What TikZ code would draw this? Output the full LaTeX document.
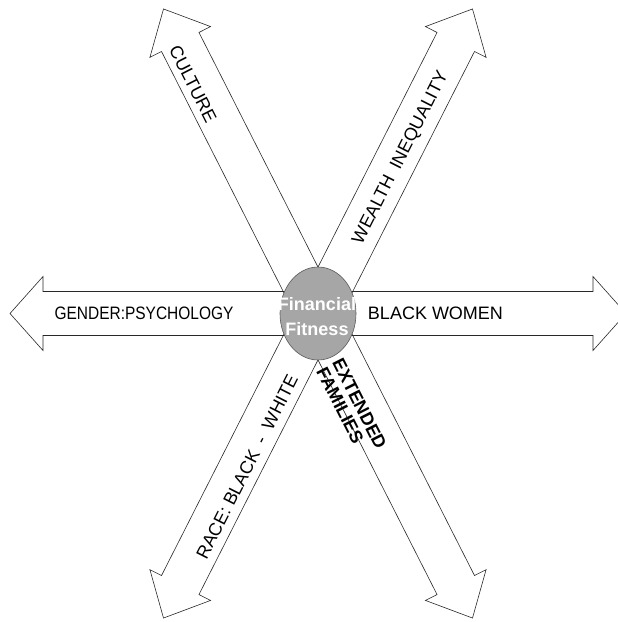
\documentclass[tikz,border=0pt]{standalone}
\usepackage{fontspec}
\setmainfont{Liberation Sans}
\definecolor{linec}{RGB}{40,40,40}
\definecolor{ballfill}{RGB}{166,166,166}
\definecolor{ballline}{RGB}{90,90,90}
\tikzset{
  arrowline/.style={draw=linec, line width=0.6pt, line join=miter},
  lbl/.style={inner sep=0pt, font=\fontsize{18}{20}\selectfont, text=black},
  lblbold/.style={lbl, font=\fontsize{18}{18}\selectfont\bfseries},
  ball/.style={ellipse, draw=ballline, line width=0.6pt, fill=ballfill, minimum width=76pt, minimum height=93pt, inner sep=0pt},
}
\usetikzlibrary{shapes.geometric}
\begin{document}
\begin{tikzpicture}[x=1pt,y=-1pt]
\useasboundingbox (0,0) rectangle (618,622);
\coordinate (ctr) at (318,313.5);
% three double arrows: angle / half length / head length / head half width / shaft half width
\foreach \ang/\L/\a/\h/\w in {0/308/33/37/22, 63.1/341.5/37/34/21, -63.1/341.5/37/34/21}{
  \draw[arrowline, shift={(ctr)}, rotate=\ang]
    (-\L,0) -- (-\L+\a,\h) -- (-\L+\a,\w) -- (\L-\a,\w) -- (\L-\a,\h) -- (\L,0)
    -- (\L-\a,-\h) -- (\L-\a,-\w) -- (-\L+\a,-\w) -- (-\L+\a,-\h) -- cycle;
}
\node[ball] (ball) at (ctr) {};
\node[lblbold, text=white, align=center, font=\fontsize{18}{25}\selectfont\bfseries] (ff) at (317,316.5) {Financial\\Fitness};
\node[lbl] (gender) at (144,313) {\scalebox{0.86}[1]{GENDER:PSYCHOLOGY}};
\node[lbl] (black) at (435.5,313.5) {BLACK WOMEN};
\node[lbl, rotate=-63.1] (culture) at (193,84) {CULTURE};
\node[lbl, rotate=63.1] (wealth) at (401,158) {WEALTH\ \ INEQUALITY};
\node[lbl, rotate=63.1] (race) at (247,467) {RACE: BLACK\ \ -\ \ WHITE};
\node[lblbold, rotate=-63.1, align=left] (ext) at (351.5,408) {EXTENDED\\FAMILIES};
\end{tikzpicture}
\end{document}
